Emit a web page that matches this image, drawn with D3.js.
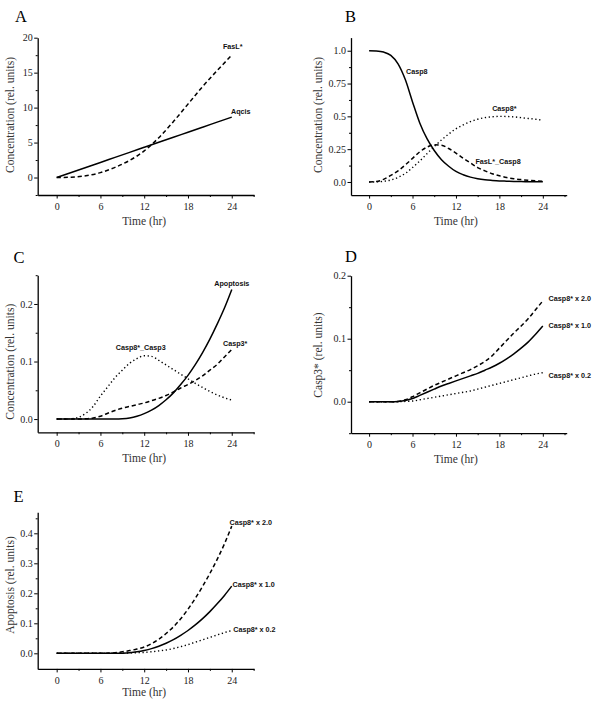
<!DOCTYPE html>
<html>
<head>
<meta charset="utf-8">
<script src="https://cdn.jsdelivr.net/npm/d3@7"></script>
<style>
  html, body { margin: 0; padding: 0; background: #fff; }
  svg { display: block; }
</style>
</head>
<body>
<svg id="chart" width="600" height="704"></svg>
<script>
// ---------------- DATA ----------------
const xTicks = [0, 6, 12, 18, 24];
const xMinorTicks = [3, 9, 15, 21, 27];

// Panel A
const hoursA = [0, 2, 4, 6, 8, 10, 12, 14, 16, 18, 20, 22, 24];
const aqcis  = [0, 0.72, 1.44, 2.16, 2.88, 3.6, 4.32, 5.04, 5.76, 6.48, 7.2, 7.92, 8.64];
const fasL   = [0, 0.05, 0.25, 0.7, 1.45, 2.45, 3.8, 5.7, 8.0, 10.5, 13.0, 15.3, 17.5];
const yTicksA = [0, 5, 10, 15, 20];
const yTickLabelsA = ["0", "5", "10", "15", "20"];
const yMinorA = [-2.5, 2.5, 7.5, 12.5, 17.5];

// Panels B–E share hourly time points
const hours = [0,1,2,3,4,5,6,7,8,9,10,11,12,13,14,15,16,17,18,19,20,21,22,23,24];

// Panel B
const casp8      = [1.0,0.998,0.99,0.965,0.9,0.78,0.61,0.45,0.33,0.24,0.17,0.12,0.08,0.055,0.037,0.025,0.017,0.012,0.008,0.006,0.004,0.003,0.002,0.0015,0.001];
const casp8Star  = [0,0.001,0.005,0.015,0.035,0.065,0.11,0.16,0.215,0.27,0.32,0.365,0.405,0.435,0.46,0.478,0.49,0.497,0.5,0.499,0.496,0.49,0.484,0.478,0.47];
const fasLCasp8  = [0,0.003,0.02,0.05,0.085,0.13,0.18,0.23,0.265,0.283,0.28,0.255,0.22,0.18,0.145,0.11,0.085,0.063,0.047,0.034,0.025,0.018,0.013,0.009,0.006];
const yTicksB = [0, 0.25, 0.5, 0.75, 1.0];
const yTickLabelsB = ["0.0", "0.25", "0.5", "0.75", "1.0"];
const yMinorB = [0.125, 0.375, 0.625, 0.875];

// Panel C
const apoptosis  = [0,0,0,0,0,0,0,0,0,0.0005,0.002,0.005,0.0095,0.0155,0.0235,0.0335,0.0455,0.06,0.076,0.0945,0.1155,0.139,0.165,0.193,0.225];
const casp8Casp3 = [0,0,0.0005,0.003,0.01,0.022,0.04,0.056,0.072,0.085,0.097,0.105,0.11,0.109,0.102,0.094,0.086,0.078,0.07,0.062,0.055,0.048,0.042,0.037,0.033];
const casp3Star  = [0,0,0,0,0.0005,0.002,0.005,0.01,0.015,0.019,0.022,0.025,0.028,0.032,0.036,0.041,0.047,0.054,0.06,0.067,0.075,0.085,0.095,0.108,0.121];
const yTicksC = [0, 0.1, 0.2];
const yTickLabelsC = ["0.0", "0.1", "0.2"];
const yMinorC = [0.05, 0.15, 0.25];

// Panel D (Casp3*)
const casp3x20 = [0,0,0,0,0.0005,0.003,0.008,0.014,0.02,0.026,0.031,0.036,0.041,0.046,0.051,0.057,0.064,0.073,0.085,0.097,0.109,0.12,0.132,0.146,0.16];
const casp3x10 = [0,0,0,0,0.0005,0.002,0.005,0.01,0.015,0.02,0.025,0.029,0.033,0.037,0.041,0.045,0.05,0.055,0.061,0.068,0.076,0.085,0.095,0.107,0.12];
const casp3x02 = [0,0,0,0,0,0.0005,0.001,0.003,0.005,0.007,0.009,0.011,0.013,0.015,0.017,0.02,0.023,0.026,0.029,0.032,0.035,0.038,0.041,0.044,0.046];
const yTicksD = [0, 0.1, 0.2];
const yTickLabelsD = ["0.0", "0.1", "0.2"];
const yMinorD = [-0.05, 0.05, 0.15];

// Panel E (Apoptosis)
const apopx20 = [0,0,0,0,0,0,0,0.0005,0.002,0.005,0.009,0.014,0.021,0.032,0.047,0.066,0.088,0.115,0.147,0.183,0.223,0.266,0.313,0.365,0.424];
const apopx10 = [0,0,0,0,0,0,0,0,0,0.0005,0.002,0.005,0.0095,0.0155,0.0235,0.0335,0.0455,0.06,0.076,0.0945,0.1155,0.139,0.165,0.193,0.224];
const apopx02 = [0,0,0,0,0,0,0,0,0,0.0005,0.001,0.002,0.003,0.005,0.008,0.011,0.016,0.022,0.029,0.037,0.045,0.053,0.061,0.069,0.076];
const yTicksE = [0, 0.1, 0.2, 0.3, 0.4];
const yTickLabelsE = ["0.0", "0.1", "0.2", "0.3", "0.4"];
const yMinorE = [0.05, 0.15, 0.25, 0.35, 0.45];

// ---------------- DRAWING ----------------
const svg = d3.select("#chart");
const SERIF = "'Liberation Serif', 'Times New Roman', serif";
const SANS = "'Liberation Sans', Arial, sans-serif";
const DASH = "4.2,2.8";
const DOT = "1.3,2.6";

const left = { xDomain: [-2.6, 27.05], xRange: [37.7, 254] };
const right = { xDomain: [-2.5, 27.3], xRange: [351, 566.7] };

const panels = [
  { letter: "A", lp: [15, 22], col: left, yDomain: [-2.5, 20], yRange: [195, 37.7],
    yTicks: yTicksA, yLabels: yTickLabelsA, yMinor: yMinorA,
    ytitle: "Concentration (rel. units)", ytx: 10, yty: 115, xtOff: 29.5,
    series: [
      { t: hoursA, v: aqcis, dash: null },
      { t: hoursA, v: fasL, dash: DASH }
    ],
    labels: [ { text: "FasL*", t: 22.8, v: 18.7 }, { text: "Aqcis", t: 23.9, v: 9.4 } ] },
  { letter: "B", lp: [345, 22], col: right, yDomain: [-0.1, 1.1], yRange: [195.1, 37.6],
    yTicks: yTicksB, yLabels: yTickLabelsB, yMinor: yMinorB,
    ytitle: "Concentration (rel. units)", ytx: 318.3, yty: 115, xtOff: 29.5,
    series: [
      { t: hours, v: casp8, dash: null },
      { t: hours, v: casp8Star, dash: DOT },
      { t: hours, v: fasLCasp8, dash: DASH }
    ],
    labels: [ { text: "Casp8", t: 5.1, v: 0.842 }, { text: "Casp8*", t: 17.0, v: 0.56 }, { text: "FasL*_Casp8", t: 14.7, v: 0.153 } ] },
  { letter: "C", lp: [13.5, 263.3], col: left, yDomain: [-0.023, 0.25], yRange: [432.3, 275.2],
    yTicks: yTicksC, yLabels: yTickLabelsC, yMinor: yMinorC,
    ytitle: "Concentration (rel. units)", ytx: 10, yty: 361.7, xtOff: 29.5,
    series: [
      { t: hours, v: apoptosis, dash: null },
      { t: hours, v: casp8Casp3, dash: DOT },
      { t: hours, v: casp3Star, dash: DASH }
    ],
    labels: [ { text: "Apoptosis", t: 21.6, v: 0.236 }, { text: "Casp8*_Casp3", t: 8.1, v: 0.125 }, { text: "Casp3*", t: 22.8, v: 0.132 } ] },
  { letter: "D", lp: [345, 262.3], col: right, yDomain: [-0.05, 0.2], yRange: [433.2, 275.7],
    yTicks: yTicksD, yLabels: yTickLabelsD, yMinor: yMinorD,
    ytitle: "Casp3* (rel. units)", ytx: 318.3, yty: 355, xtOff: 29.5,
    series: [
      { t: hours, v: casp3x20, dash: DASH },
      { t: hours, v: casp3x10, dash: null },
      { t: hours, v: casp3x02, dash: DOT }
    ],
    labels: [ { text: "Casp8* x 2.0", t: 24.8, v: 0.164 }, { text: "Casp8* x 1.0", t: 24.8, v: 0.121 }, { text: "Casp8* x 0.2", t: 24.8, v: 0.042 } ] },
  { letter: "E", lp: [13.5, 501.7], col: left, yDomain: [-0.052, 0.47], yRange: [668.9, 512.3],
    yTicks: yTicksE, yLabels: yTickLabelsE, yMinor: yMinorE,
    ytitle: "Apoptosis (rel. units)", ytx: 10, yty: 585, xtOff: 27,
    series: [
      { t: hours, v: apopx20, dash: DASH },
      { t: hours, v: apopx10, dash: null },
      { t: hours, v: apopx02, dash: DOT }
    ],
    labels: [ { text: "Casp8* x 2.0", t: 23.7, v: 0.435 }, { text: "Casp8* x 1.0", t: 24.1, v: 0.23 }, { text: "Casp8* x 0.2", t: 24.2, v: 0.078 } ] }
];

panels.forEach(p => {
  const x = d3.scaleLinear().domain(p.col.xDomain).range(p.col.xRange);
  const y = d3.scaleLinear().domain(p.yDomain).range(p.yRange);
  const g = svg.append("g");
  const x0 = p.col.xRange[0];
  const yb = p.yRange[0];

  // Panel letter
  g.append("text").attr("x", p.lp[0]).attr("y", p.lp[1])
    .attr("font-family", SERIF).attr("font-size", 16.5).attr("fill", "#000").text(p.letter);

  // Minor ticks
  const inDom = (arr, dom) => arr.filter(v => v >= Math.min(...dom) - 1e-9 && v <= Math.max(...dom) + 1e-9);
  g.append("g").attr("transform", `translate(0,${yb})`)
    .call(d3.axisBottom(x).tickValues(inDom(xMinorTicks, p.col.xDomain)).tickSize(2).tickSizeOuter(0).tickFormat(""))
    .call(s => s.select(".domain").remove());
  g.append("g").attr("transform", `translate(${x0},0)`)
    .call(d3.axisLeft(y).tickValues(inDom(p.yMinor, p.yDomain)).tickSize(2).tickSizeOuter(0).tickFormat(""))
    .call(s => s.select(".domain").remove());

  // Major axes
  const xa = g.append("g").attr("transform", `translate(0,${yb})`)
    .call(d3.axisBottom(x).tickValues(xTicks).tickSize(3.5).tickSizeOuter(0).tickPadding(4.5).tickFormat(d3.format("d")));
  const ya = g.append("g").attr("transform", `translate(${x0},0)`)
    .call(d3.axisLeft(y).tickValues(p.yTicks).tickSize(3.5).tickSizeOuter(0).tickPadding(1.5)
      .tickFormat((d, i) => p.yLabels[i]));
  [xa, ya].forEach(a => {
    a.selectAll("text").attr("font-family", SERIF).attr("font-size", 10).attr("fill", "#222");
  });
  g.selectAll(".domain").attr("stroke", "#000").attr("stroke-width", 1.3);
  g.selectAll(".tick line").attr("stroke", "#000").attr("stroke-width", 1);

  // Axis titles
  g.append("text")
    .attr("x", x(12)).attr("y", yb + p.xtOff)
    .attr("text-anchor", "middle").attr("font-family", SERIF).attr("font-size", 11.5).attr("fill", "#333")
    .text("Time (hr)");
  g.append("text")
    .attr("transform", `translate(${p.ytx},${p.yty}) rotate(-90)`)
    .attr("dy", "0.35em")
    .attr("text-anchor", "middle").attr("font-family", SERIF).attr("font-size", 11.5).attr("fill", "#333")
    .text(p.ytitle);

  // Series
  const line = d3.line().x(d => x(d[0])).y(d => y(d[1])).curve(d3.curveMonotoneX);
  p.series.forEach(s => {
    const pts = s.t.map((t, i) => [t, s.v[i]]);
    g.append("path").datum(pts)
      .attr("d", line)
      .attr("fill", "none").attr("stroke", "#000")
      .attr("stroke-width", s.dash === DOT ? 1.4 : 1.5)
      .attr("stroke-dasharray", s.dash);
  });

  // Series labels
  p.labels.forEach(l => {
    g.append("text").attr("x", x(l.t)).attr("y", y(l.v)).attr("dy", "0.35em")
      .attr("font-family", SANS).attr("font-weight", "bold").attr("font-size", 7.2).attr("fill", "#111")
      .text(l.text);
  });
});
</script>
</body>
</html>
